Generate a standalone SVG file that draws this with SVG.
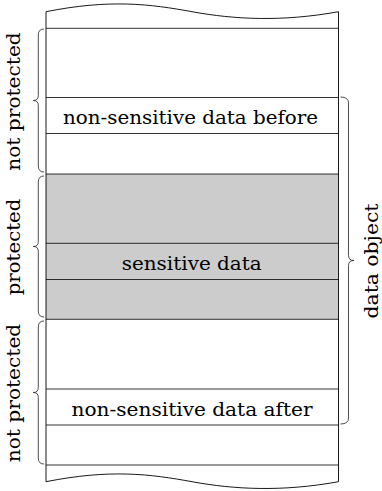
<svg xmlns="http://www.w3.org/2000/svg" width="382" height="491" viewBox="0 0 382 491">
  <style>
    .edge { fill: none; stroke: #000; stroke-width: 0.9; }
    .rule { fill: none; stroke: #000; stroke-width: 0.8; }
    .brace { fill: none; stroke: #222; stroke-width: 0.8; }
    .shade { fill: #cccccc; stroke: none; }
    text { font-family: "DejaVu Serif", serif; font-size: 19px; fill: #000; }
  </style>
  <defs>
    <path id="wave" d="M46,11.7 C110,-1 150,4 192,11.7 S282,22 338.5,11.7"/>
  </defs>
  <rect fill="#fff" x="0" y="0" width="382" height="491"/>

  <!-- memory column -->
  <g id="column">
    <rect class="shade" x="46" y="174" width="292.5" height="145.3"/>
    <use href="#wave" class="edge"/>
    <use href="#wave" class="edge" transform="translate(0,470)"/>
    <line class="edge" x1="46" y1="11.7" x2="46" y2="481.7"/>
    <line class="edge" x1="338.5" y1="11.7" x2="338.5" y2="481.7"/>
    <line class="rule" x1="46" y1="28.3" x2="338.5" y2="28.3"/>
    <line class="rule" x1="46" y1="97.5" x2="338.5" y2="97.5"/>
    <line class="rule" x1="46" y1="133.5" x2="338.5" y2="133.5"/>
    <line class="rule" x1="46" y1="174" x2="338.5" y2="174"/>
    <line class="rule" x1="46" y1="243.3" x2="338.5" y2="243.3"/>
    <line class="rule" x1="46" y1="279.5" x2="338.5" y2="279.5"/>
    <line class="rule" x1="46" y1="319.3" x2="338.5" y2="319.3"/>
    <line class="rule" x1="46" y1="389" x2="338.5" y2="389"/>
    <line class="rule" x1="46" y1="425" x2="338.5" y2="425"/>
    <line class="rule" x1="46" y1="465" x2="338.5" y2="465"/>
  </g>

  <!-- row labels -->
  <g id="before">
    <text x="190.5" y="124.3" text-anchor="middle" textLength="255" lengthAdjust="spacingAndGlyphs">non-sensitive data before</text>
  </g>
  <g id="sensitive">
    <text x="191.7" y="269.5" text-anchor="middle" textLength="140" lengthAdjust="spacingAndGlyphs">sensitive data</text>
  </g>
  <g id="after">
    <text x="192" y="415.5" text-anchor="middle" textLength="241" lengthAdjust="spacingAndGlyphs">non-sensitive data after</text>
  </g>

  <!-- brace labels -->
  <g id="not-protected-top">
    <text transform="translate(20,101.5) rotate(-90)" text-anchor="middle" textLength="138.5" lengthAdjust="spacingAndGlyphs">not protected</text>
  </g>
  <g id="protected">
    <text transform="translate(20,247) rotate(-90)" text-anchor="middle" textLength="96.5" lengthAdjust="spacingAndGlyphs">protected</text>
  </g>
  <g id="not-protected-bottom">
    <text transform="translate(20,393) rotate(-90)" text-anchor="middle" textLength="138.5" lengthAdjust="spacingAndGlyphs">not protected</text>
  </g>
  <g id="data-object">
    <text transform="translate(378,261) rotate(-90)" text-anchor="middle" textLength="115" lengthAdjust="spacingAndGlyphs">data object</text>
  </g>

  <!-- braces -->
  <g id="braces">
    <path class="brace" d="M44,29 Q38.3,29 38.3,35 L38.3,95.5 Q38.3,100.5 33.3,100.5 Q38.3,100.5 38.3,105.5 L38.3,166 Q38.3,172 44,172"/>
    <path class="brace" d="M44,176 Q38.3,176 38.3,182 L38.3,241.5 Q38.3,246.5 33.3,246.5 Q38.3,246.5 38.3,251.5 L38.3,311 Q38.3,317 44,317"/>
    <path class="brace" d="M44,321 Q38.3,321 38.3,327 L38.3,387.5 Q38.3,392.5 33.3,392.5 Q38.3,392.5 38.3,397.5 L38.3,458 Q38.3,464 44,464"/>
    <path class="brace" d="M340.5,97 Q348.5,97 348.5,103 L348.5,255.5 Q348.5,260.5 354,260.5 Q348.5,260.5 348.5,265.5 L348.5,418 Q348.5,424 340.5,424"/>
  </g>
</svg>
